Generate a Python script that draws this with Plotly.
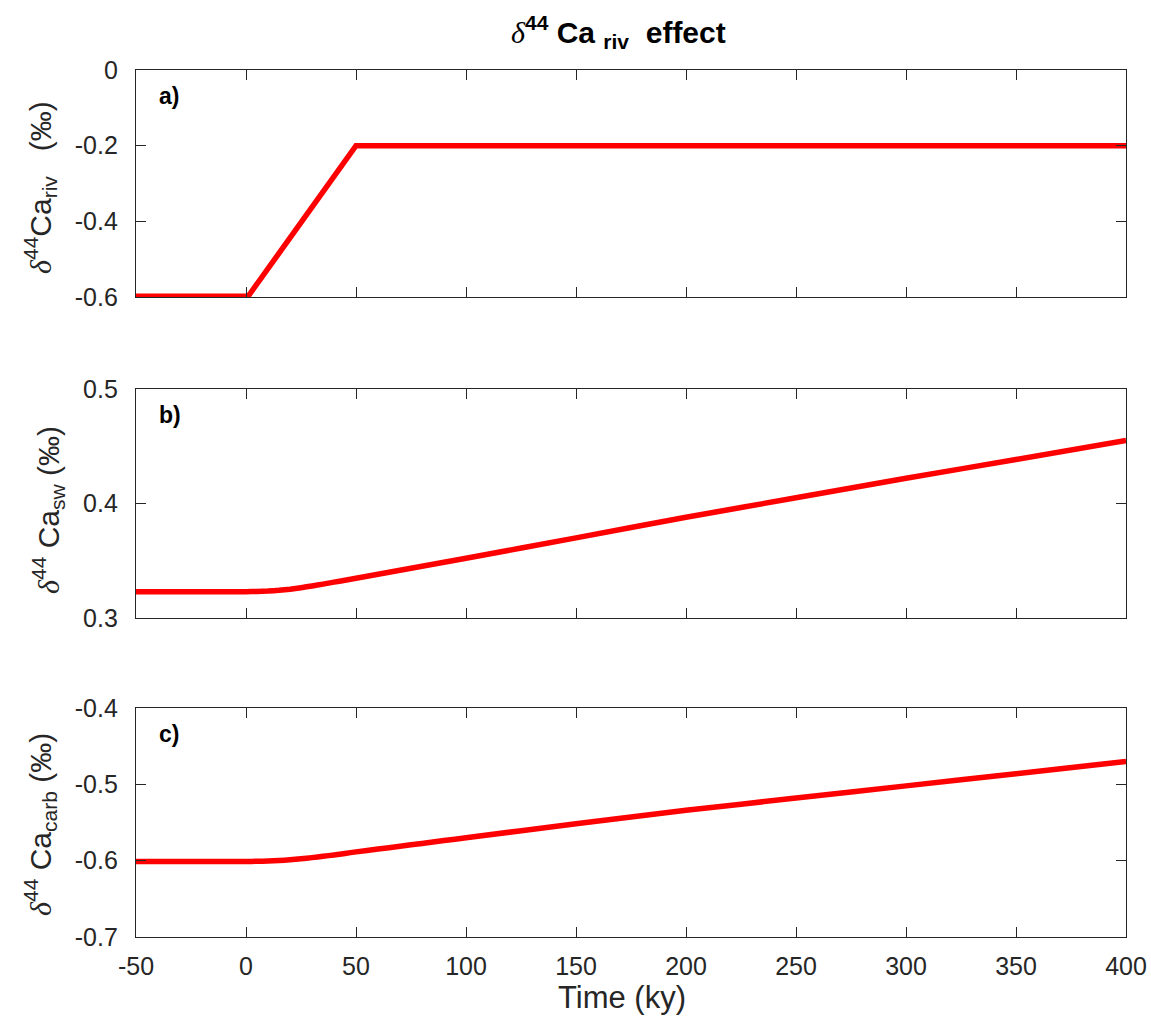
import plotly.graph_objects as go

# Time axis (ky) and the three isotope records
t_riv = [-50, 1, 50, 400]
d44_riv = [-0.598, -0.598, -0.2, -0.2]

t_model = [-50, 0, 5, 10, 15, 20, 25, 30, 35, 40, 45, 50, 60, 70, 80, 90, 100,
           150, 200, 250, 300, 350, 400]
d44_sw = [0.323, 0.323, 0.3231, 0.3235, 0.3242, 0.3252, 0.3265, 0.328, 0.3296,
          0.3313, 0.333, 0.3347, 0.3382, 0.3417, 0.3452, 0.3487, 0.3522,
          0.370, 0.388, 0.405, 0.422, 0.4385, 0.455]
d44_carb = [-0.601, -0.601, -0.6009, -0.6005, -0.5998, -0.5988, -0.5975, -0.596,
            -0.5943, -0.5925, -0.5905, -0.5885, -0.5848, -0.5811, -0.5774,
            -0.5737, -0.570, -0.5515, -0.534, -0.518, -0.502, -0.486, -0.470]

x_ticks = [-50, 0, 50, 100, 150, 200, 250, 300, 350, 400]
y_ticks_a = [0, -0.2, -0.4, -0.6]
y_ticks_b = [0.3, 0.4, 0.5]
y_ticks_c = [-0.4, -0.5, -0.6, -0.7]
panel_tags = ["a)", "b)", "c)"]

W, H = 1151, 1022
FONT = "Liberation Sans, Arial, Helvetica, sans-serif"
AX = "#262626"
DELTA = "<span style='font-family:Liberation Serif, Times New Roman, serif'><i>δ</i></span>"

x_dom = [136 / W, 1126 / W]
y_doms = [
    [1 - 297 / H, 1 - 70 / H],
    [1 - 618 / H, 1 - 389 / H],
    [1 - 937 / H, 1 - 708 / H],
]

fig = go.Figure()
series = [(t_riv, d44_riv), (t_model, d44_sw), (t_model, d44_carb)]
for i, (xs, ys) in enumerate(series):
    sfx = "" if i == 0 else str(i + 1)
    fig.add_trace(go.Scatter(x=xs, y=ys, mode="lines",
                             line=dict(color="#ff0000", width=5.5, shape="spline",
                                       smoothing=0.3 if i else 0),
                             xaxis="x" + sfx, yaxis="y" + sfx,
                             showlegend=False, hoverinfo="skip"))

common_axis = dict(showline=True, linecolor=AX, linewidth=1.4, mirror="ticks",
                   ticks="inside", ticklen=10, tickwidth=1.4, tickcolor=AX,
                   showgrid=False, zeroline=False, automargin=False,
                   tickfont=dict(family=FONT, size=25, color=AX))

y_specs = [
    ([-0.6, 0], y_ticks_a, ["0", "-0.2", "-0.4", "-0.6"]),
    ([0.3, 0.5], y_ticks_b, ["0.3", "0.4", "0.5"]),
    ([-0.7, -0.4], y_ticks_c, ["-0.4", "-0.5", "-0.6", "-0.7"]),
]

layout = dict(width=W, height=H,
              margin=dict(l=0, r=0, t=0, b=0, pad=0, autoexpand=False),
              plot_bgcolor="white", paper_bgcolor="white")
for i in range(3):
    sfx = "" if i == 0 else str(i + 1)
    xa = dict(common_axis, domain=x_dom, range=[-50, 400], anchor="y" + sfx,
              tickvals=x_ticks, ticklabelstandoff=7,
              ticktext=[str(v) for v in x_ticks] if i == 2 else [""] * len(x_ticks))
    yr, yt, ytt = y_specs[i]
    ya = dict(common_axis, domain=y_doms[i], range=yr, anchor="x" + sfx,
              tickvals=yt, ticktext=ytt, ticklabelstandoff=12)
    layout["xaxis" + sfx] = xa
    layout["yaxis" + sfx] = ya

fig.update_layout(**layout)

annotations = []
# Figure title
annotations.append(dict(
    text=DELTA + "<b><sup>44</sup> Ca <sub>riv</sub>  effect</b>",
    x=618 / W, y=1 - 32 / H, xref="paper", yref="paper",
    xanchor="center", yanchor="middle", showarrow=False,
    font=dict(family=FONT, size=30, color="black")))
# Panel tags
for i, tag in enumerate(panel_tags):
    top_px = [70, 389, 708][i]
    annotations.append(dict(
        text="<b>" + tag + "</b>", x=157 / W, y=1 - (top_px + 26) / H,
        xref="paper", yref="paper", xanchor="left", yanchor="middle",
        showarrow=False, font=dict(family=FONT, size=23, color="black")))
# Y-axis titles
y_titles = [
    (DELTA + "<sup>44</sup>Ca<sub>riv</sub>   (‰)", 40, 188),
    (DELTA + "<sup>44</sup> Ca<sub>sw</sub> (‰)", 48, 510),
    (DELTA + "<sup>44</sup> Ca<sub>carb</sub> (‰)", 40, 825),
]
for txt, xp, yp in y_titles:
    annotations.append(dict(
        text=txt, x=xp / W, y=1 - yp / H, xref="paper", yref="paper",
        xanchor="center", yanchor="middle", textangle=-90, showarrow=False,
        font=dict(family=FONT, size=30, color=AX)))
# X-axis title
annotations.append(dict(
    text="Time (ky)", x=622 / W, y=1 - 997 / H, xref="paper", yref="paper",
    xanchor="center", yanchor="middle", showarrow=False,
    font=dict(family=FONT, size=31, color=AX)))

fig.update_layout(annotations=annotations)
fig.write_html("out.html")
